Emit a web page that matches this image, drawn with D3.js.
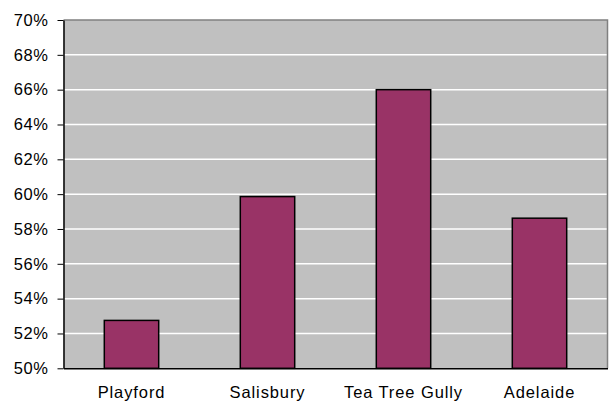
<!DOCTYPE html>
<html><head><meta charset="utf-8">
<script src="https://cdn.jsdelivr.net/npm/d3@7"></script>
<style>body{margin:0;background:#fff;} text{font-family:"Liberation Sans",Arial,sans-serif;}</style>
</head><body><svg id="c" width="611" height="403"></svg>
<script>
const categories = ["Playford", "Salisbury", "Tea Tree Gully", "Adelaide"];
const values = [0.5275, 0.5986, 0.6600, 0.5862];
const yTicks = [0.50,0.52,0.54,0.56,0.58,0.60,0.62,0.64,0.66,0.68,0.70];

const svg = d3.select("#c");
const L = 63.5, R = 607.5, T = 20, B = 368.3;
const x = d3.scaleBand().domain(categories).range([L, R]).paddingInner(0.6).paddingOuter(0.3);
const y = d3.scaleLinear().domain([0.5, 0.7]).range([B, T]);

svg.append("rect").attr("x", L).attr("y", T).attr("width", R - L).attr("height", B - T)
  .attr("fill", "#c0c0c0");
svg.append("g").selectAll("line").data(yTicks.filter(d => d > 0.5 && d < 0.7)).join("line")
  .attr("x1", L).attr("x2", R).attr("y1", d => y(d)).attr("y2", d => y(d))
  .attr("stroke", "#fff").attr("stroke-width", 1.5);
svg.append("path").attr("d", `M${L},${T}H${R}V${B}`).attr("fill", "none")
  .attr("stroke", "#808080").attr("stroke-width", 1.5);

svg.append("g").selectAll("rect").data(categories).join("rect")
  .attr("x", d => x(d)).attr("width", x.bandwidth())
  .attr("y", (d, i) => y(values[i])).attr("height", (d, i) => B - y(values[i]))
  .attr("fill", "#993366").attr("stroke", "#000").attr("stroke-width", 1.5);

const yAxis = d3.axisLeft(y).tickValues(yTicks).tickSize(6).tickSizeOuter(0)
  .tickFormat(d3.format(".0%"));
const gy = svg.append("g").attr("transform", `translate(${L},0)`).call(yAxis);
gy.select(".domain").attr("stroke", "#000").attr("stroke-width", 1.5);
gy.selectAll(".tick line").attr("stroke", "#000");
gy.selectAll(".tick text").attr("x", -15).attr("font-size", 16.5).attr("letter-spacing", 0.6)
  .attr("font-family", "Liberation Sans, Arial, sans-serif").attr("fill", "#000");

const xAxis = d3.axisBottom(x).tickSize(0).tickSizeOuter(0);
const gx = svg.append("g").attr("transform", `translate(0,${B})`).call(xAxis);
gx.select(".domain").attr("stroke", "#000").attr("stroke-width", 1.5);
gx.selectAll(".tick text").attr("y", 18).attr("font-size", 16.5).attr("letter-spacing", 0.9)
  .attr("font-family", "Liberation Sans, Arial, sans-serif").attr("fill", "#000");
</script></body></html>
